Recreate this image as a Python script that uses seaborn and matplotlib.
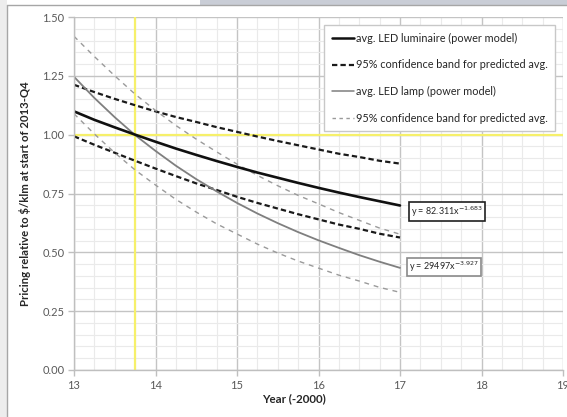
import matplotlib
matplotlib.use("Agg")
import matplotlib.pyplot as plt
import seaborn as sns
import pandas as pd
from matplotlib.patches import Rectangle
from matplotlib.lines import Line2D
from matplotlib.ticker import MultipleLocator

# values
years = [13, 13.25, 13.5, 13.75, 14, 14.25, 14.5, 14.75, 15,
         15.25, 15.5, 15.75, 16, 16.25, 16.5, 16.75, 17]
lum_avg = [1.099, 1.063, 1.031, 1.000, 0.970, 0.941, 0.914, 0.888, 0.863,
           0.839, 0.817, 0.795, 0.774, 0.754, 0.735, 0.717, 0.699]
lum_upper = [1.212, 1.181, 1.152, 1.125, 1.099, 1.075, 1.054, 1.032, 1.012,
             0.992, 0.973, 0.955, 0.937, 0.919, 0.905, 0.889, 0.877]
lum_lower = [0.993, 0.957, 0.923, 0.889, 0.856, 0.824, 0.793, 0.765, 0.736,
             0.710, 0.686, 0.662, 0.640, 0.618, 0.600, 0.579, 0.563]
lamp_avg = [1.246, 1.156, 1.074, 0.998, 0.931, 0.868, 0.811, 0.759, 0.710,
            0.665, 0.624, 0.586, 0.551, 0.519, 0.488, 0.460, 0.434]
lamp_upper = [1.418, 1.332, 1.250, 1.172, 1.103, 1.039, 0.981, 0.927, 0.875,
              0.827, 0.783, 0.742, 0.706, 0.669, 0.636, 0.603, 0.577]
lamp_lower = [1.089, 1.003, 0.923, 0.850, 0.786, 0.725, 0.671, 0.621, 0.578,
              0.535, 0.497, 0.463, 0.433, 0.403, 0.378, 0.351, 0.330]

legend_labels = ["avg. LED luminaire (power model)",
                 "95% confidence band for predicted avg.",
                 "avg. LED lamp (power model)",
                 "95% confidence band for predicted avg."]
lum_eq = ("y = 82.311x", "-1.683")
lamp_eq = ("y = 29497x", "-3.927")
ref_year = 13.75
ref_level = 1.0

data = pd.DataFrame({"year": years, "lum_avg": lum_avg, "lum_upper": lum_upper,
                     "lum_lower": lum_lower, "lamp_avg": lamp_avg,
                     "lamp_upper": lamp_upper, "lamp_lower": lamp_lower})

sns.set_theme(style="white")
plt.rcParams["font.family"] = ["Lato", "DejaVu Sans"]

f = plt.figure(figsize=(5.67, 4.17), dpi=100)
ax = f.add_axes([74 / 567, 1 - 370 / 417, (563 - 74) / 567, (370 - 17) / 417])

# grid
ax.set_xlim(13, 19)
ax.set_ylim(0, 1.5)
ax.xaxis.set_major_locator(MultipleLocator(1))
ax.xaxis.set_minor_locator(MultipleLocator(0.25))
ax.yaxis.set_major_locator(MultipleLocator(0.25))
ax.yaxis.set_minor_locator(MultipleLocator(0.05))
ax.grid(which="major", color="#c4c4c4", lw=1.0)
ax.grid(which="minor", color="#eaeaea", lw=0.8)
ax.set_axisbelow(True)

ax.axvline(ref_year, color="#f6f06a", lw=1.6, zorder=1.5)
ax.axhline(ref_level, color="#f6f06a", lw=1.6, zorder=1.5)

black_dash = (0, (2.4, 1.4))
gray_dash = (0, (3.5, 3.5))

sns.lineplot(data=data, x="year", y="lum_upper", color="#1a1a1a", lw=1.6,
             linestyle=black_dash, ax=ax)
sns.lineplot(data=data, x="year", y="lum_lower", color="#1a1a1a", lw=1.6,
             linestyle=black_dash, ax=ax)
sns.lineplot(data=data, x="year", y="lamp_upper", color="#9a9a9a", lw=1.0,
             linestyle=gray_dash, ax=ax)
sns.lineplot(data=data, x="year", y="lamp_lower", color="#9a9a9a", lw=1.0,
             linestyle=gray_dash, ax=ax)
sns.lineplot(data=data, x="year", y="lamp_avg", color="#7f7f7f", lw=1.3, ax=ax)
sns.lineplot(data=data, x="year", y="lum_avg", color="#101010", lw=1.9, ax=ax)

for s in ["top", "right"]:
    ax.spines[s].set_visible(False)
for s in ["left", "bottom"]:
    ax.spines[s].set_color("#bfbfbf")
    ax.spines[s].set_linewidth(1.0)

ax.tick_params(which="major", direction="out", length=4, width=1,
               color="#bfbfbf", labelsize=8, labelcolor="#595959",
               left=True, bottom=True, pad=3)
ax.tick_params(which="minor", length=0)
ax.yaxis.set_major_formatter(plt.FuncFormatter(lambda v, p: f"{v:.2f}"))
ax.xaxis.set_major_formatter(plt.FuncFormatter(lambda v, p: f"{v:.0f}"))

ax.set_xlabel("Year (-2000)", fontsize=8.3, fontweight="bold", color="#262626")
ax.xaxis.set_label_coords((293.5 - 74) / 489, -0.065)
ax.set_ylabel("Pricing relative to $/klm at start of 2013-Q4", fontsize=8.2,
              fontweight="bold", color="#262626", labelpad=8)

# legend
handles = [Line2D([], [], color="#101010", lw=1.8),
           Line2D([], [], color="#1a1a1a", lw=1.6, linestyle=black_dash),
           Line2D([], [], color="#7f7f7f", lw=1.1),
           Line2D([], [], color="#9a9a9a", lw=1.0, linestyle=(0, (2.5, 2.5)))]
leg = ax.legend(handles, legend_labels, loc="upper right",
                bbox_to_anchor=(555 / 567, 1 - 25 / 417), bbox_transform=f.transFigure,
                borderaxespad=0, fontsize=7.8, frameon=True, fancybox=False,
                framealpha=1, edgecolor="#c8c8c8", handlelength=2.1,
                handletextpad=0.1, labelspacing=1.45, borderpad=0.7)
leg.get_frame().set_linewidth(1.0)
for t in leg.get_texts():
    t.set_color("#262626")

# trendline equations
ax.text(17.13, 0.674, f"{lum_eq[0]}$^{{{lum_eq[1]}}}$", fontsize=6.5, color="#262626",
        va="center", ha="left",
        bbox=dict(boxstyle="square,pad=0.22", fc="white", ec="#202020", lw=1.2))
ax.text(17.11, 0.438, f"{lamp_eq[0]}$^{{{lamp_eq[1]}}}$", fontsize=6.5, color="#262626",
        va="center", ha="left",
        bbox=dict(boxstyle="square,pad=0.22", fc="white", ec="#8a8a8a", lw=1.2))

# screenshot frame around the chart area
f.patches.append(Rectangle((0, 0), 7 / 567, 1, transform=f.transFigure,
                           fc="#ededed", ec="none", zorder=0))
f.patches.append(Rectangle((200 / 567, 1 - 5 / 417), 367 / 567, 5 / 417,
                           transform=f.transFigure, fc="#c9cdd6", ec="none", zorder=0))
f.lines.append(Line2D([7 / 567, 7 / 567], [0, 1 - 5 / 417], transform=f.transFigure,
                      color="#a6a6a6", lw=1.0))
f.lines.append(Line2D([7 / 567, 1], [1 - 5 / 417, 1 - 5 / 417], transform=f.transFigure,
                      color="#a6a6a6", lw=1.0))

f.savefig("out.png", dpi=100)
